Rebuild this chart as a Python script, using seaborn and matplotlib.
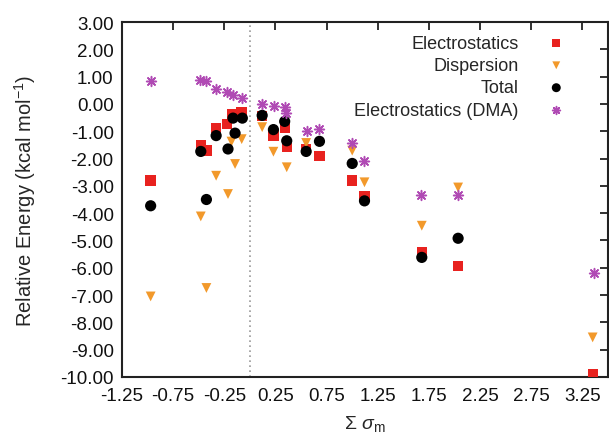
import numpy as np
import pandas as pd
import matplotlib
matplotlib.use("Agg")
import matplotlib.pyplot as plt
import seaborn as sns

# ---- data ----
elec_x = [-0.97, -0.48, -0.425, -0.33, -0.224, -0.171, -0.083, 0.12, 0.23, 0.34, 0.36, 0.55, 0.68, 1.0, 1.12, 1.68, 2.035, 3.35]
elec_y = [-2.80, -1.50, -1.71, -0.89, -0.74, -0.37, -0.29, -0.45, -1.16, -0.89, -1.59, -1.65, -1.90, -2.80, -3.36, -5.41, -5.93, -9.89]

disp_x = [-0.97, -0.48, -0.425, -0.33, -0.214, -0.18, -0.145, -0.08, 0.12, 0.23, 0.36, 0.55, 1.0, 1.12, 1.68, 2.035, 3.35]
disp_y = [-7.05, -4.12, -6.74, -2.63, -3.30, -1.38, -2.20, -1.29, -0.85, -1.75, -2.32, -1.43, -1.71, -2.87, -4.46, -3.06, -8.55]

tot_x = [-0.97, -0.48, -0.425, -0.33, -0.214, -0.165, -0.145, -0.074, 0.12, 0.23, 0.34, 0.36, 0.55, 0.68, 1.0, 1.12, 1.68, 2.035]
tot_y = [-3.73, -1.74, -3.50, -1.16, -1.65, -0.52, -1.07, -0.52, -0.42, -0.94, -0.64, -1.35, -1.74, -1.37, -2.18, -3.55, -5.62, -4.92]

dma_x = [-0.97, -0.483, -0.43, -0.327, -0.22, -0.165, -0.074, 0.12, 0.235, 0.345, 0.35, 0.556, 0.673, 1.0, 1.118, 1.677, 2.035, 3.36]
dma_y = [0.85, 0.87, 0.85, 0.55, 0.42, 0.33, 0.20, 0.00, -0.08, -0.13, -0.33, -0.98, -0.92, -1.44, -2.08, -3.34, -3.34, -6.19]

series_names = ["Electrostatics", "Dispersion", "Total", "Electrostatics (DMA)"]
x_ticks = [-1.25, -0.75, -0.25, 0.25, 0.75, 1.25, 1.75, 2.25, 2.75, 3.25]
y_ticks = [-10, -9, -8, -7, -6, -5, -4, -3, -2, -1, 0, 1, 2, 3]

sns.set_style("white")
plt.rcParams["font.family"] = ["Liberation Sans", "DejaVu Sans"]
plt.rcParams["mathtext.fontset"] = "custom"
plt.rcParams["mathtext.rm"] = "Liberation Sans"
plt.rcParams["mathtext.it"] = "Liberation Sans:italic"

fig = plt.figure(figsize=(6.09, 4.35), dpi=100)
ax = fig.add_axes([122 / 609, 1 - 378 / 435, (608 - 122) / 609, (378 - 23) / 435])

ax.axvline(0.0, color="#999999", linestyle=(0, (1, 2)), linewidth=1.2, zorder=0)

sns.scatterplot(x=elec_x, y=elec_y, ax=ax, marker="s", color="#e8221f", s=55,
                edgecolor="none", label=series_names[0], zorder=3)
sns.scatterplot(x=disp_x, y=disp_y, ax=ax, marker="v", color="#f2992b", s=50,
                edgecolor="none", label=series_names[1], zorder=3)
sns.scatterplot(x=tot_x, y=tot_y, ax=ax, marker="o", color="black", s=65,
                edgecolor="none", label=series_names[2], zorder=4)
sns.scatterplot(x=dma_x, y=dma_y, ax=ax, marker=(8, 2, 0), color="#b04ab4", s=50,
                linewidth=1.1, label=series_names[3], zorder=5)

ax.set_xlim(-1.25, 3.5)
ax.set_ylim(-10, 3)
ax.set_xticks(x_ticks)
ax.set_yticks(y_ticks)
ax.set_xticklabels([f"{v:.2f}" for v in x_ticks])
ax.set_yticklabels([f"{v:.2f}" for v in y_ticks])
ax.tick_params(direction="in", length=6, width=1.3, colors="#222222",
               labelcolor="#111111", labelsize=13.5, top=True, right=True,
               labeltop=False, labelright=False)
ax.tick_params(axis="x", pad=7)
ax.tick_params(axis="y", pad=6)
for sp in ax.spines.values():
    sp.set_visible(True)
    sp.set_color("#222222")
    sp.set_linewidth(1.5)

ax.set_xlabel(r"$\Sigma\ \sigma_\mathrm{m}$", fontsize=14, labelpad=7)
ax.set_ylabel(r"Relative Energy (kcal mol$^{-1}$)", fontsize=14.5, labelpad=16)

leg = ax.legend(loc="upper right", bbox_to_anchor=(0.953, 0.995), frameon=False,
                markerfirst=False, fontsize=13, handletextpad=1.1,
                labelspacing=0.30, borderaxespad=0.2, markerscale=0.8)

fig.savefig("out.png", dpi=100)
